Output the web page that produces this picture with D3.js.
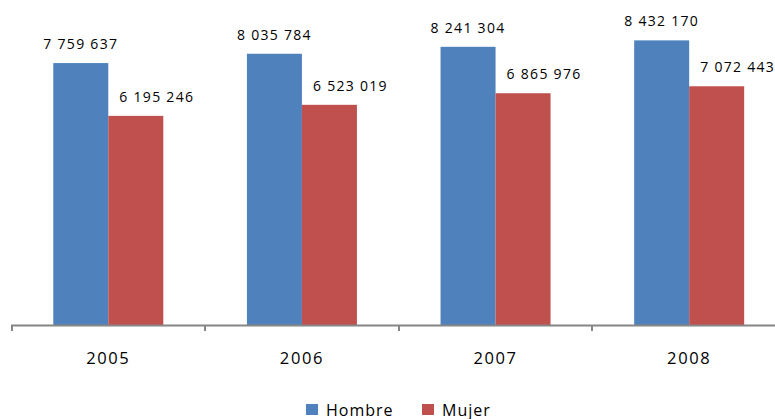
<!DOCTYPE html>
<html>
<head>
<meta charset="utf-8">
<script src="https://cdn.jsdelivr.net/npm/d3@7"></script>
<style>
  body { margin: 0; background: #fff; }
  text { font-family: "Open Sans", sans-serif; fill: #000; }
</style>
</head>
<body>
<svg id="chart"></svg>
<script>
const width = 775;
const height = 419;

const years = ["2005", "2006", "2007", "2008"];
const series = ["Hombre", "Mujer"];
const hombre = [7759637, 8035784, 8241304, 8432170];
const mujer = [6195246, 6523019, 6865976, 7072443];
const colors = ["#4F81BD", "#C0504D"];

const values = [hombre, mujer];

const svg = d3.select("#chart")
  .attr("width", width)
  .attr("height", height);

const baseline = 325;

// plot runs a bit past the right edge, like the source image
const x = d3.scaleBand()
  .domain(years)
  .range([11.5, 786])
  .paddingInner(0)
  .paddingOuter(0);

const xs = d3.scaleBand()
  .domain(series)
  .range([41.8, 41.8 + 110]);

const y = d3.scaleLinear()
  .domain([0, 9000000])
  .range([baseline, baseline - 303.8]);

const fmt = v => d3.format(",")(v).replace(/,/g, " ");

const groups = svg.append("g")
  .selectAll("g")
  .data(years)
  .join("g")
  .attr("transform", d => `translate(${x(d)},0)`);

series.forEach((s, si) => {
  groups.append("rect")
    .attr("x", xs(s))
    .attr("width", xs.bandwidth())
    .attr("y", (d, i) => y(values[si][i]))
    .attr("height", (d, i) => baseline - y(values[si][i]))
    .attr("fill", colors[si]);

  groups.append("text")
    .attr("x", xs(s) + xs.bandwidth() / 2 + (si === 1 ? 21 : 0))
    .attr("y", (d, i) => y(values[si][i]) - 14)
    .attr("text-anchor", "middle")
    .attr("font-size", 14)
    .attr("letter-spacing", 1.3)
    .text((d, i) => fmt(values[si][i]));
});

// category axis
const axis = svg.append("g");
axis.append("line")
  .attr("x1", 11)
  .attr("x2", width)
  .attr("y1", baseline + 0.5)
  .attr("y2", baseline + 0.5)
  .attr("stroke", "#868686")
  .attr("stroke-width", 2);

axis.selectAll(".tick")
  .data(years)
  .join("line")
  .attr("class", "tick")
  .attr("x1", d => Math.round(x(d)))
  .attr("x2", d => Math.round(x(d)))
  .attr("y1", baseline)
  .attr("y2", baseline + 6)
  .attr("stroke", "#868686")
  .attr("stroke-width", 2);

axis.selectAll(".cat")
  .data(years)
  .join("text")
  .attr("class", "cat")
  .attr("x", d => x(d) + x.bandwidth() / 2)
  .attr("y", 364)
  .attr("text-anchor", "middle")
  .attr("font-size", 16.5)
  .attr("letter-spacing", 1.6)
  .text(d => d);

// legend
const legendX = [306, 422];
const legend = svg.append("g")
  .selectAll("g")
  .data(series)
  .join("g")
  .attr("transform", (d, i) => `translate(${legendX[i]},404)`);

legend.append("rect")
  .attr("width", 12)
  .attr("height", 11)
  .attr("fill", (d, i) => colors[i]);

legend.append("text")
  .attr("x", 20)
  .attr("y", 11.5)
  .attr("font-size", 16)
  .attr("letter-spacing", 1)
  .text(d => d);
</script>
</body>
</html>
